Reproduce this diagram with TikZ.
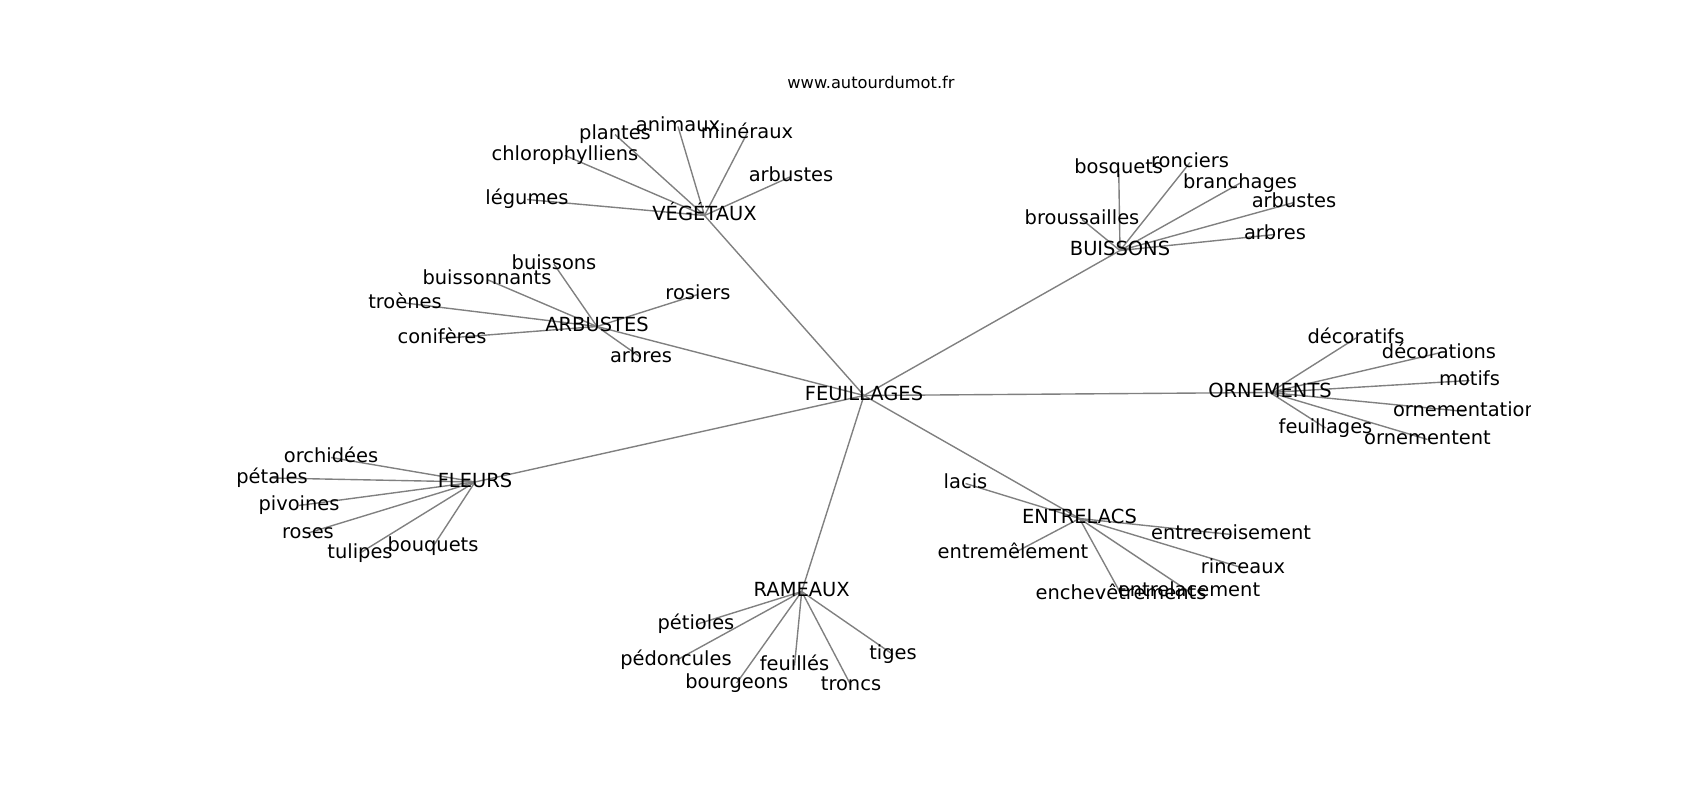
\documentclass[tikz,border=0pt]{standalone}
\usepackage{fontspec}
\setmainfont{DejaVu Sans}
\usetikzlibrary{backgrounds}
\tikzset{
    wordLabel/.style={inner sep=0pt, font=\fontsize{14}{16}\selectfont, text height=10.64pt, text depth=3.3pt, anchor=center},
    siteTitle/.style={inner sep=0pt, font=\fontsize{11.7}{14}\selectfont, anchor=base},
    edgeLine/.style={draw=gray, line width=1pt}
}
\begin{document}
\begin{tikzpicture}[x=0.72pt, y=-0.72pt]
        \useasboundingbox (0,-1.5) rectangle (1700,798.5);
        \node[siteTitle] (site) at (871,87.3) {www.autourdumot.fr};
        \begin{scope}
        \clip (212.5,96) rectangle (1530,712);
        % hubs
        \node[wordLabel] (feuillages) at (864,394) {FEUILLAGES};
        \node[wordLabel] (vegetaux) at (704.5,214) {VÉGÉTAUX};
        \node[wordLabel] (buissonsHub) at (1120,249) {BUISSONS};
        \node[wordLabel] (arbustesHub) at (597,325) {ARBUSTES};
        \node[wordLabel] (ornements) at (1270,391) {ORNEMENTS};
        \node[wordLabel] (fleurs) at (475,480.5) {FLEURS};
        \node[wordLabel] (entrelacs) at (1079.5,517) {ENTRELACS};
        \node[wordLabel] (rameaux) at (801.7,590) {RAMEAUX};
        % vegetaux
        \node[wordLabel] (plantes) at (615,133) {plantes};
        \node[wordLabel] (animaux) at (678,125) {animaux};
        \node[wordLabel] (mineraux) at (747,132) {minéraux};
        \node[wordLabel] (chloro) at (565,154) {chlorophylliens};
        \node[wordLabel] (arbustesV) at (791,175) {arbustes};
        \node[wordLabel] (legumes) at (527,198) {légumes};
        % buissons
        \node[wordLabel] (bosquets) at (1118.7,166.7) {bosquets};
        \node[wordLabel] (ronciers) at (1190,161) {ronciers};
        \node[wordLabel] (branchages) at (1240,181.7) {branchages};
        \node[wordLabel] (arbustesB) at (1294,201) {arbustes};
        \node[wordLabel] (broussailles) at (1082,218) {broussailles};
        \node[wordLabel] (arbresB) at (1275,233) {arbres};
        % arbustes
        \node[wordLabel] (buissons) at (554,262.7) {buissons};
        \node[wordLabel] (buissonnants) at (487,278) {buissonnants};
        \node[wordLabel] (troenes) at (405,301.5) {troènes};
        \node[wordLabel] (rosiers) at (698,293) {rosiers};
        \node[wordLabel] (coniferes) at (442,337) {conifères};
        \node[wordLabel] (arbresA) at (641,356) {arbres};
        % ornements
        \node[wordLabel] (decoratifs) at (1356,336.5) {décoratifs};
        \node[wordLabel] (decorations) at (1439,351.5) {décorations};
        \node[wordLabel] (motifs) at (1469.5,379) {motifs};
        \node[wordLabel] (ornementation) at (1465,410) {ornementation};
        \node[wordLabel] (feuillagesO) at (1325.5,426.5) {feuillages};
        \node[wordLabel] (ornementent) at (1427.5,438) {ornementent};
        % fleurs
        \node[wordLabel] (orchidees) at (331,456) {orchidées};
        \node[wordLabel] (petales) at (272,476.5) {pétales};
        \node[wordLabel] (pivoines) at (299,504) {pivoines};
        \node[wordLabel] (roses) at (308,531.5) {roses};
        \node[wordLabel] (tulipes) at (360,551.5) {tulipes};
        \node[wordLabel] (bouquets) at (433,545) {bouquets};
        % entrelacs
        \node[wordLabel] (lacis) at (965.5,482) {lacis};
        \node[wordLabel] (entrecroisement) at (1231,533) {entrecroisement};
        \node[wordLabel] (entremelement) at (1013,552) {entremêlement};
        \node[wordLabel] (rinceaux) at (1243,566.5) {rinceaux};
        \node[wordLabel] (enchevetrements) at (1121,592.5) {enchevêtrements};
        \node[wordLabel] (entrelacement) at (1189,590) {entrelacement};
        % rameaux
        \node[wordLabel] (petioles) at (696,623) {pétioles};
        \node[wordLabel] (pedoncules) at (676,659) {pédoncules};
        \node[wordLabel] (feuilles) at (794.5,664) {feuillés};
        \node[wordLabel] (bourgeons) at (736.7,681.5) {bourgeons};
        \node[wordLabel] (troncs) at (851,684) {troncs};
        \node[wordLabel] (tiges) at (893,653) {tiges};
        \begin{pgfonlayer}{background}
        \draw[edgeLine] (feuillages.center) -- (vegetaux.center);
        \draw[edgeLine] (feuillages.center) -- (buissonsHub.center);
        \draw[edgeLine] (feuillages.center) -- (arbustesHub.center);
        \draw[edgeLine] (feuillages.center) -- (ornements.center);
        \draw[edgeLine] (feuillages.center) -- (fleurs.center);
        \draw[edgeLine] (feuillages.center) -- (entrelacs.center);
        \draw[edgeLine] (feuillages.center) -- (rameaux.center);
        \draw[edgeLine] (vegetaux.center) -- (plantes.center);
        \draw[edgeLine] (vegetaux.center) -- (animaux.center);
        \draw[edgeLine] (vegetaux.center) -- (mineraux.center);
        \draw[edgeLine] (vegetaux.center) -- (chloro.center);
        \draw[edgeLine] (vegetaux.center) -- (arbustesV.center);
        \draw[edgeLine] (vegetaux.center) -- (legumes.center);
        \draw[edgeLine] (buissonsHub.center) -- (bosquets.center);
        \draw[edgeLine] (buissonsHub.center) -- (ronciers.center);
        \draw[edgeLine] (buissonsHub.center) -- (branchages.center);
        \draw[edgeLine] (buissonsHub.center) -- (arbustesB.center);
        \draw[edgeLine] (buissonsHub.center) -- (broussailles.center);
        \draw[edgeLine] (buissonsHub.center) -- (arbresB.center);
        \draw[edgeLine] (arbustesHub.center) -- (buissons.center);
        \draw[edgeLine] (arbustesHub.center) -- (buissonnants.center);
        \draw[edgeLine] (arbustesHub.center) -- (troenes.center);
        \draw[edgeLine] (arbustesHub.center) -- (rosiers.center);
        \draw[edgeLine] (arbustesHub.center) -- (coniferes.center);
        \draw[edgeLine] (arbustesHub.center) -- (arbresA.center);
        \draw[edgeLine] (ornements.center) -- (decoratifs.center);
        \draw[edgeLine] (ornements.center) -- (decorations.center);
        \draw[edgeLine] (ornements.center) -- (motifs.center);
        \draw[edgeLine] (ornements.center) -- (ornementation.center);
        \draw[edgeLine] (ornements.center) -- (feuillagesO.center);
        \draw[edgeLine] (ornements.center) -- (ornementent.center);
        \draw[edgeLine] (fleurs.center) -- (orchidees.center);
        \draw[edgeLine] (fleurs.center) -- (petales.center);
        \draw[edgeLine] (fleurs.center) -- (pivoines.center);
        \draw[edgeLine] (fleurs.center) -- (roses.center);
        \draw[edgeLine] (fleurs.center) -- (tulipes.center);
        \draw[edgeLine] (fleurs.center) -- (bouquets.center);
        \draw[edgeLine] (entrelacs.center) -- (lacis.center);
        \draw[edgeLine] (entrelacs.center) -- (entrecroisement.center);
        \draw[edgeLine] (entrelacs.center) -- (entremelement.center);
        \draw[edgeLine] (entrelacs.center) -- (rinceaux.center);
        \draw[edgeLine] (entrelacs.center) -- (enchevetrements.center);
        \draw[edgeLine] (entrelacs.center) -- (entrelacement.center);
        \draw[edgeLine] (rameaux.center) -- (petioles.center);
        \draw[edgeLine] (rameaux.center) -- (pedoncules.center);
        \draw[edgeLine] (rameaux.center) -- (feuilles.center);
        \draw[edgeLine] (rameaux.center) -- (bourgeons.center);
        \draw[edgeLine] (rameaux.center) -- (troncs.center);
        \draw[edgeLine] (rameaux.center) -- (tiges.center);
        \end{pgfonlayer}
        \end{scope}
\end{tikzpicture}
\end{document}
